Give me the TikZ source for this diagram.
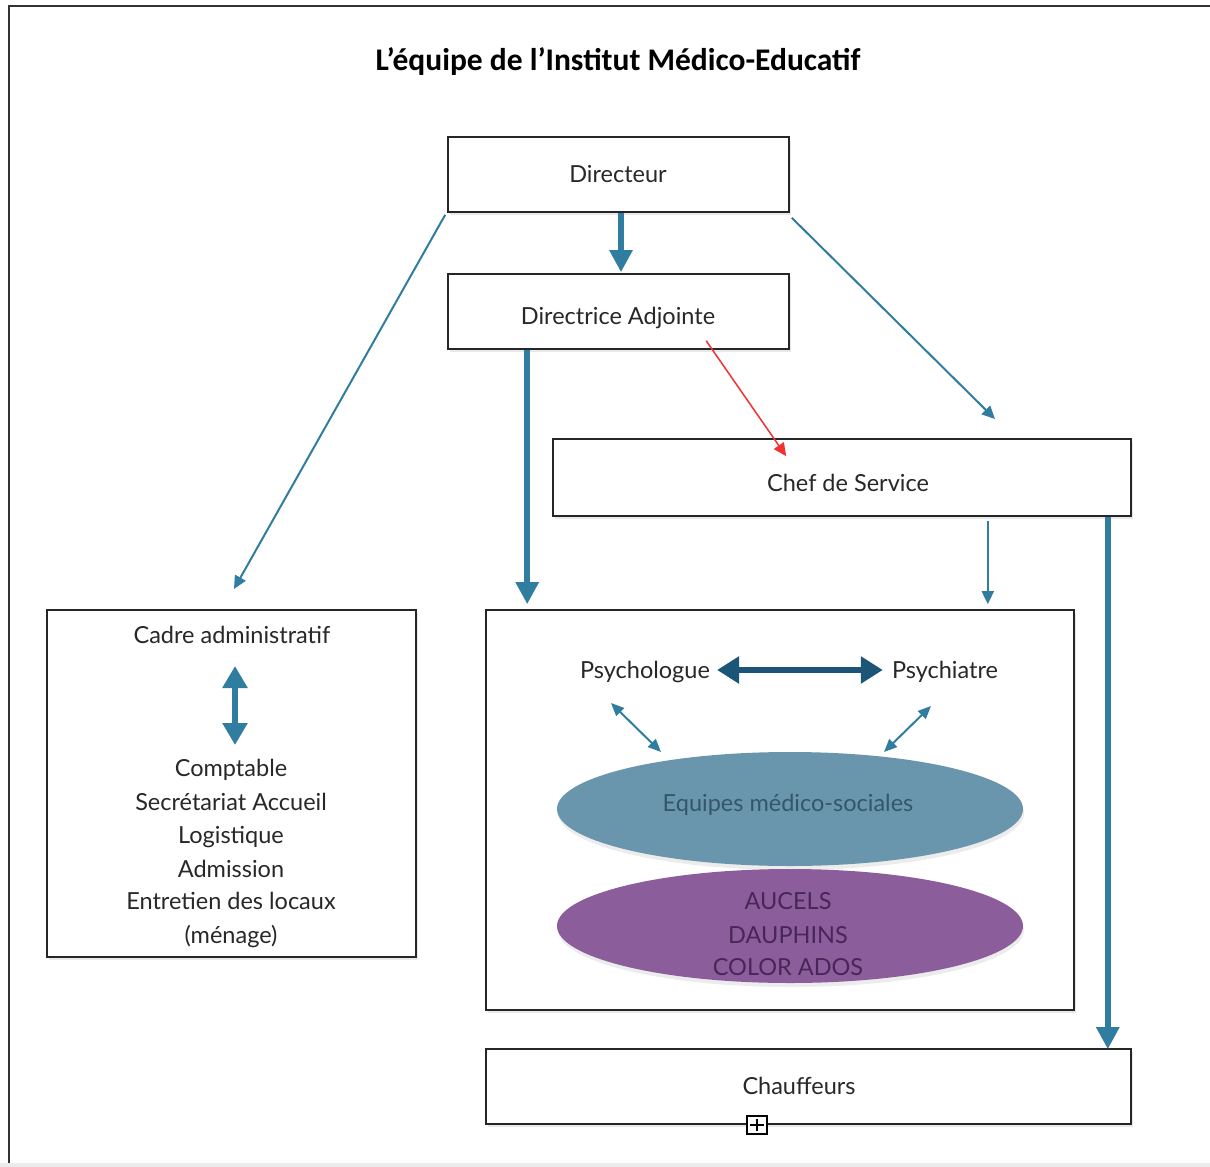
\documentclass[tikz,border=0pt]{standalone}
\usepackage{fontspec}
\setmainfont{Lato}
\newfontfamily\titlefont{Carlito}
\usetikzlibrary{arrows.meta,shadows,shapes.geometric}
\definecolor{arrowblue}{RGB}{49,125,160}
\definecolor{darkblue}{RGB}{28,85,118}
\definecolor{ellblue}{RGB}{106,150,173}
\definecolor{ellpurple}{RGB}{139,94,155}
\definecolor{txt}{RGB}{40,40,40}
\definecolor{ellbluetxt}{RGB}{52,86,108}
\definecolor{ellpurpletxt}{RGB}{72,38,86}
\definecolor{redarrow}{RGB}{240,50,50}
\begin{document}
\begin{tikzpicture}[x=1pt,y=-1pt,
  box/.style={draw=black!85,line width=1.6pt,fill=white,inner sep=0pt,
    drop shadow={shadow xshift=2pt,shadow yshift=-3pt,opacity=0.18}},
  lbl/.style={font=\fontsize{23.5}{27}\selectfont,text=txt,inner sep=0pt,text height=17pt,text depth=5pt},
  elltxt/.style={font=\fontsize{23.5}{27}\selectfont,inner sep=0pt,text height=17pt,text depth=5pt},
  thickarrow/.style={draw=arrowblue,line width=6pt,-{Triangle[width=22pt,length=22pt]}},
  thinarrow/.style={draw=arrowblue,line width=2pt,-{Triangle[width=12pt,length=13pt]}},
  thinboth/.style={draw=arrowblue,line width=2pt,{Triangle[width=11pt,length=13pt]}-{Triangle[width=11pt,length=13pt]}},
  ell/.style={ellipse,inner sep=0pt,minimum width=466pt,minimum height=114pt,
    drop shadow={shadow xshift=1pt,shadow yshift=-4pt,opacity=0.15}},
]
\useasboundingbox (0,0) rectangle (1210,1167);
\fill[white] (0,0) rectangle (1210,1167);
\fill[black!8] (0,1163) rectangle (1210,1167);
\draw[black!80,line width=2pt] (9,1163) -- (9,6) -- (1214,6);

% title
\node[inner sep=0pt,font=\titlefont\bfseries\fontsize{31.5}{34}\selectfont] (title) at (618,62) {L’équipe de l’Institut Médico-Educatif};

% boxes
\node[box,minimum width=341pt,minimum height=75pt] (dir) at (618.5,174.5) {};
\node[box,minimum width=341pt,minimum height=75pt] (adj) at (618.5,311.5) {};
\node[box,minimum width=578pt,minimum height=77pt] (chef) at (842,477.5) {};
\node[box,minimum width=369pt,minimum height=347pt] (cadre) at (231.5,783.5) {};
\node[box,minimum width=588pt,minimum height=400pt] (mid) at (780,810) {};
\node[box,minimum width=645pt,minimum height=75pt] (chauf) at (808.5,1086.5) {};

\node[lbl] (dirlbl) at (618,176) {Directeur};
\node[lbl] (adjlbl) at (618,318) {Directrice Adjointe};
\node[lbl] (cheflbl) at (848,485) {Chef de Service};
\node[lbl] (chauflbl) at (799,1088) {Chauffeurs};

% plus box
\node[draw=black,line width=1.2pt,fill=white,minimum width=20pt,minimum height=18pt,inner sep=0pt] (plus) at (757,1125) {};
\draw[black,line width=1.2pt] ([yshift=-4pt]plus.north) -- ([yshift=4pt]plus.south);
\draw[black,line width=1.2pt] ([xshift=4pt]plus.west) -- ([xshift=-4pt]plus.east);

% cadre contents
\node[lbl] (cadrelbl) at (232,637) {Cadre administratif};
\node[lbl] (compt) at (231,770) {Comptable};
\node[lbl] (secr) at (231,804) {Secrétariat Accueil};
\node[lbl] (logi) at (231,837) {Logistique};
\node[lbl] (admi) at (231,871) {Admission};
\node[lbl] (entr) at (231,903) {Entretien des locaux};
\node[lbl] (mena) at (231,937) {(ménage)};
\coordinate (ca1) at (235,666);
\coordinate (ca2) at (235,745);
\draw[draw=arrowblue,line width=6pt,{Triangle[width=24pt,length=22pt]}-{Triangle[width=24pt,length=22pt]}] (ca1) -- (ca2);

% middle contents
\node[ell,fill=ellpurple] (purple) at (790,926) {};
\node[ell,fill=ellblue] (blue) at (790,809) {};
\node[elltxt,text=ellbluetxt] (eqlbl) at (788,805) {Equipes médico-sociales};
\node[elltxt,text=ellpurpletxt] (auc) at (788,903) {AUCELS};
\node[elltxt,text=ellpurpletxt] (dau) at (788,937) {DAUPHINS};
\node[elltxt,text=ellpurpletxt] (col) at (788,969) {COLOR ADOS};

\node[lbl] (psylog) at (645,672) {Psychologue};
\node[lbl] (psyat) at (945,672) {Psychiatre};
\draw[draw=darkblue,line width=6pt,{Triangle[width=26pt,length=22pt]}-{Triangle[width=26pt,length=22pt]}] ([xshift=7pt,yshift=2pt]psylog.east) -- ([xshift=-9pt,yshift=2pt]psyat.west);

\coordinate (p1) at (611,703);
\coordinate (p2) at (661,752);
\coordinate (q1) at (931,706);
\coordinate (q2) at (884,752);
\draw[thinboth] (p1) -- (p2);
\draw[thinboth] (q1) -- (q2);

% connectors
\draw[thickarrow] ([xshift=2.5pt]dir.south) -- ([xshift=2.5pt,yshift=1pt]adj.north);
\coordinate (e1) at (234,589);
\draw[thinarrow] ([xshift=-2pt,yshift=-2pt]dir.south west) -- (e1);
\coordinate (e2) at (995,419);
\draw[thinarrow] ([xshift=2pt,yshift=-5pt]dir.south east) -- (e2);
\draw[draw=redarrow,line width=1.5pt,-{Triangle[width=12pt,length=13pt]}] ([xshift=259pt,yshift=9pt]adj.south west) -- ([xshift=234pt,yshift=-18pt]chef.north west);
\draw[thickarrow] ([xshift=80pt]adj.south west) -- ([xshift=42pt,yshift=5pt]mid.north west);
\draw[thinarrow] ([xshift=-144pt,yshift=-4pt]chef.south east) -- ([xshift=-87pt,yshift=5pt]mid.north east);
\draw[thickarrow] ([xshift=-24pt]chef.south east) -- ([xshift=-24pt,yshift=-1pt]chauf.north east);
\end{tikzpicture}
\end{document}
